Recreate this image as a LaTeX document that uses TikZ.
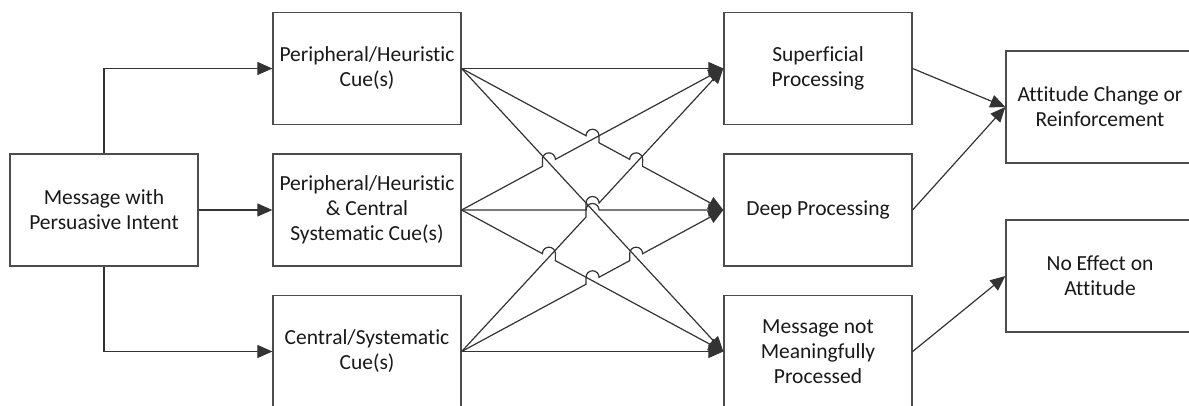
\documentclass[tikz,border=0pt]{standalone}
\usepackage{fontspec}
\setmainfont{Carlito}[Ligatures = NoCommon]
\usepackage{tikz}
\usetikzlibrary{arrows.meta,positioning,calc}
\newcommand{\hopover}{arc[start angle = 180, end angle = 0, radius = 6.5]}

\begin{document}
\begin{tikzpicture}[x = 1pt, y = 1pt,
    box/.style = {draw = black!70, line width = 1.3pt, minimum width = 188pt, minimum height = 112pt,
      inner sep = 0pt, align = center, text = black!90, font = \fontsize{21.5}{25}\selectfont},
    flow/.style = {-{Triangle[length = 15pt, width = 13pt]}, draw = black!80, line width = 1.2pt}]
  \useasboundingbox (0,0) rectangle (1189,405);
  \clip (0,0) rectangle (1189,405);
    \node[box] (msg) at (104,195) {Message with\\Persuasive Intent};
    \node[box] (pc) at (367,336.5) {Peripheral/Heuristic\\Cue(s)};
    \node[box] (bc) at (367,195) {Peripheral/Heuristic\\\& Central\\Systematic Cue(s)};
    \node[box] (cc) at (367,53.5) {Central/Systematic\\Cue(s)};
    \node[box] (sp) at (818,336.5) {Superficial\\Processing};
    \node[box] (dp) at (818,195) {Deep Processing};
    \node[box] (np) at (818,53.5) {Message not\\Meaningfully\\Processed};
    \node[box] (ac) at (1100,298) {Attitude Change or\\Reinforcement};
    \node[box] (ne) at (1100,129) {No Effect on\\Attitude};
    % Cues
    \draw[flow] (msg.north) |- (pc.west);
    \draw[flow] (msg.east) -- (bc.west);
    \draw[flow] (msg.south) |- (cc.west);
    % Line jumps
    \path (pc.east) -- (dp.west) coordinate[pos = 0.4753] (ab1) coordinate[pos = 0.5247] (ab2)
      coordinate[pos = 0.6420] (ab3) coordinate[pos = 0.6914] (ab4);
    \path (bc.east) -- (sp.west) coordinate[pos = 0.3086] (ba1) coordinate[pos = 0.3580] (ba2);
    \path (bc.east) -- (dp.west) coordinate[pos = 0.4753] (bb1);
    \path (bc.east) -- (np.west) coordinate[pos = 0.3086] (bn1) coordinate[pos = 0.3580] (bn2);
    \path (cc.east) -- (sp.west) coordinate[pos = 0.4753] (ca1) coordinate[pos = 0.5247] (ca2);
    \path (cc.east) -- (dp.west) coordinate[pos = 0.4753] (cb1) coordinate[pos = 0.5247] (cb2)
      coordinate[pos = 0.6420] (cb3) coordinate[pos = 0.6914] (cb4);
    % Processing
    \draw[flow] (pc.east) -- (sp.west);
    \draw[flow] (pc.east) -- (ab1) \hopover -- (ab2) -- (ab3) \hopover -- (ab4) -- (dp.west);
    \draw[flow] (pc.east) -- (np.west);
    \draw[flow] (bc.east) -- (ba1) -- (ba1 |- ba2) \hopover -- (sp.west);
    \draw[flow] (bc.east) -- (bb1) \hopover -- (dp.west);
    \draw[flow] (bc.east) -- (bn1) \hopover -- (bn2) -- (np.west);
    \draw[flow] (cc.east) -- (ca1) -- (ca1 |- ca2) \hopover -- (sp.west);
    \draw[flow] (cc.east) -- (cb1) -- (cb1 |- cb2) \hopover -- (cb3) -- (cb3 |- cb4) \hopover -- (dp.west);
    \draw[flow] (cc.east) -- (np.west);
    % Outcomes
    \draw[flow] (sp.east) -- (ac.west);
    \draw[flow] (dp.east) -- (ac.west);
    \draw[flow] (np.east) -- (ne.west);
\end{tikzpicture}
\end{document}
